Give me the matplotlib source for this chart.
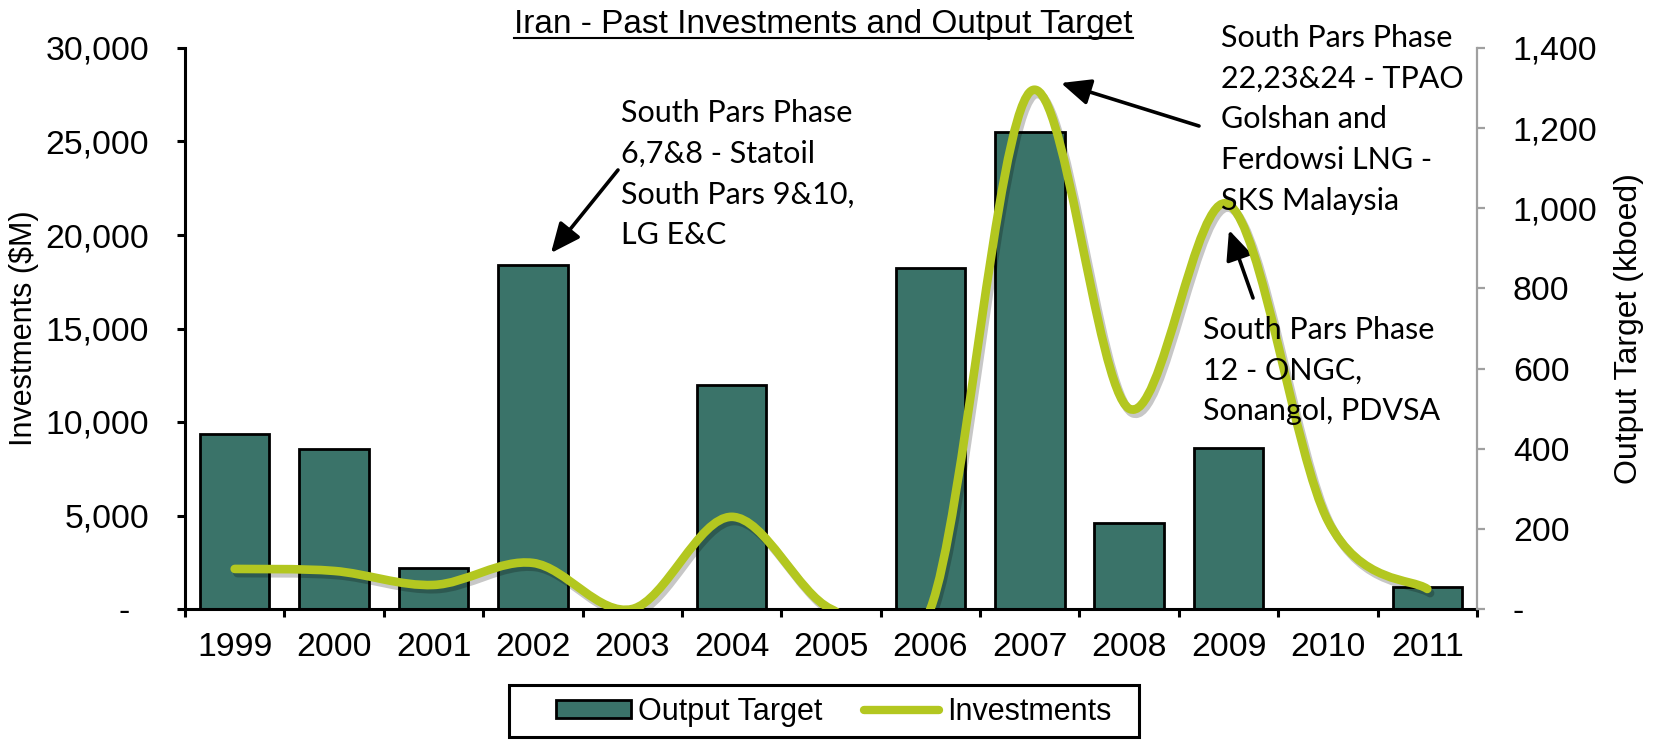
import matplotlib
matplotlib.use('Agg')
import matplotlib.pyplot as plt
import numpy as np
from matplotlib.path import Path
from matplotlib.patches import PathPatch, Rectangle, Patch
from matplotlib.lines import Line2D
import matplotlib.patheffects as pe

plt.rcParams['font.family'] = ['Liberation Sans', 'DejaVu Sans']

# ---------------- data ----------------
years = ['1999', '2000', '2001', '2002', '2003', '2004', '2005',
         '2006', '2007', '2008', '2009', '2010', '2011']
output_target = [9350, 8550, 2190, 18400, 0, 12000, 0, 18230, 25500, 4600, 8620, 0, 1190]
investments = [100, 95, 60, 115, 0, 230, 0, 0, 1290, 500, 1010, 220, 50]

left_ticks = [0, 5000, 10000, 15000, 20000, 25000, 30000]
left_tick_labels = ['-  ', '5,000', '10,000', '15,000', '20,000', '25,000', '30,000']
right_ticks = [0, 200, 400, 600, 800, 1000, 1200, 1400]
right_tick_labels = ['-', '200', '400', '600', '800', '1,000', '1,200', '1,400']

title = 'Iran - Past Investments and Output Target'
left_label = 'Investments ($M)'
right_label = 'Output Target (kboed)'
legend_labels = ['Output Target', 'Investments']

note1 = 'South Pars Phase\n6,7&8 - Statoil\nSouth Pars 9&10,\nLG E&C'
note2 = 'South Pars Phase\n22,23&24 - TPAO\nGolshan and\nFerdowsi LNG -\nSKS Malaysia'
note3 = 'South Pars Phase\n12 - ONGC,\nSonangol, PDVSA'

# ---------------- style ----------------
BAR_COLOR = '#3A7369'
LINE_COLOR = '#B3C720'
GRAY = '#A0A0A0'
W, H = 1655, 740
TICK_FS = 24.3

fig = plt.figure(figsize=(W / 100, H / 100), dpi=100)
ax = fig.add_axes([185 / W, 1 - 609 / H, (1477 - 185) / W, (609 - 48) / H])
ax2 = ax.twinx()

x = np.arange(len(years))
ax.bar(x, output_target, width=0.7, color=BAR_COLOR, edgecolor='black',
       linewidth=2.0, zorder=2)

ax.set_xlim(-0.5, len(years) - 0.5)
ax.set_ylim(left_ticks[0], left_ticks[-1])
ax2.set_ylim(right_ticks[0], right_ticks[-1])

# x ticks: boundaries (major, marks) and centers (minor, labels)
ax.set_xticks(np.arange(-0.5, len(years), 1.0))
ax.set_xticklabels([])
ax.set_xticks(x, labels=years, minor=True)
ax.tick_params(axis='x', which='major', direction='out', length=5.8, width=2.2, color='black')
ax.tick_params(axis='x', which='minor', length=0, pad=16.3, labelsize=TICK_FS)

ax.set_yticks(left_ticks, labels=left_tick_labels)
ax.tick_params(axis='y', direction='out', length=5.8, width=2.2, color='black',
               labelsize=TICK_FS, pad=20)
ax2.set_yticks(right_ticks, labels=right_tick_labels)
ax2.tick_params(axis='y', direction='out', length=5.8, width=1.6, color=GRAY,
                labelcolor='black', labelsize=TICK_FS, pad=20)

for s in ['top', 'right']:
    ax.spines[s].set_visible(False)
for s in ['top', 'left', 'bottom']:
    ax2.spines[s].set_visible(False)
ax.spines['left'].set_linewidth(2.2)
ax.spines['bottom'].set_linewidth(2.2)
ax.spines['bottom'].set_zorder(5)
ax2.spines['right'].set_color(GRAY)
ax2.spines['right'].set_linewidth(1.6)

ax.set_ylabel(left_label, fontsize=22)
ax.yaxis.label.set_verticalalignment('center')
ax.yaxis.set_label_coords((24 - 185) / 1292, 0.5)
ax2.set_ylabel(right_label, fontsize=23, rotation=90)
ax2.yaxis.label.set_verticalalignment('center')
ax2.yaxis.set_label_coords((1629 - 185) / 1292, 0.5)


# smoothed (Catmull-Rom Bezier) line through the investment points
def smooth_path(xs, ys):
    pts = np.column_stack([xs, ys]).astype(float)
    n = len(pts)
    verts = [pts[0]]
    codes = [Path.MOVETO]
    for i in range(n - 1):
        p0 = pts[max(i - 1, 0)]
        p1 = pts[i]
        p2 = pts[i + 1]
        p3 = pts[min(i + 2, n - 1)]
        b1 = p1 + (p2 - p0) / 6.0
        b2 = p2 - (p3 - p1) / 6.0
        verts += [b1, b2, p2]
        codes += [Path.CURVE4] * 3
    return Path(np.array(verts), codes)


line_patch = PathPatch(smooth_path(x, investments), fill=False,
                       edgecolor=LINE_COLOR, linewidth=6.2, capstyle='round',
                       joinstyle='round', transform=ax2.transData, zorder=3)
line_patch.set_path_effects([pe.SimpleLineShadow(offset=(2, -3), shadow_color='black', alpha=0.22),
                             pe.Normal()])
ax2.add_patch(line_patch)

# title with underline
t = fig.text(823.5 / W, 1 - 33 / H, title, ha='center', va='baseline', fontsize=24)
fig.canvas.draw()
bb = t.get_window_extent(fig.canvas.get_renderer())
fig.add_artist(Line2D([bb.x0 / W, bb.x1 / W], [1 - 37.5 / H, 1 - 37.5 / H],
                      transform=fig.transFigure, color='black', linewidth=1.5))

# annotations
note_font = dict(family=['Lato', 'DejaVu Sans'], fontsize=22, ha='left', va='top',
                 linespacing=1.55)
fig.text(621 / W, 1 - 99 / H, note1, **note_font)
fig.text(1221 / W, 1 - 24 / H, note2, **note_font)
fig.text(1203 / W, 1 - 316 / H, note3, **note_font)

arrow_kw = dict(arrowstyle='-|>,head_length=0.9,head_width=0.4', color='black',
                lw=2.6, shrinkA=0, shrinkB=0, mutation_scale=20)
for head, tail in [((551, 253), (618, 170)),
                   ((1061, 83), (1199, 126)),
                   ((1229, 230), (1253, 298))]:
    ax.annotate('', xy=(head[0], H - head[1]), xytext=(tail[0], H - tail[1]),
                xycoords='figure pixels', textcoords='figure pixels',
                arrowprops=arrow_kw, annotation_clip=False)

# legend
handles = [Patch(facecolor=BAR_COLOR, edgecolor='black', linewidth=2.0),
           Line2D([], [], color=LINE_COLOR, linewidth=6, solid_capstyle='round')]
fig.legend(handles, legend_labels, loc='center left', ncol=2, frameon=False,
           bbox_to_anchor=(556 / W, (H - 712) / H), fontsize=22,
           handlelength=2.45, handleheight=0.55, handletextpad=0.25,
           columnspacing=1.35, borderpad=0, borderaxespad=0)
fig.add_artist(Rectangle((509 / W, 3 / H), 630 / W, 52 / H,
                         transform=fig.transFigure, fill=False, edgecolor='black', linewidth=2.2))

fig.savefig('out.png', dpi=100)
